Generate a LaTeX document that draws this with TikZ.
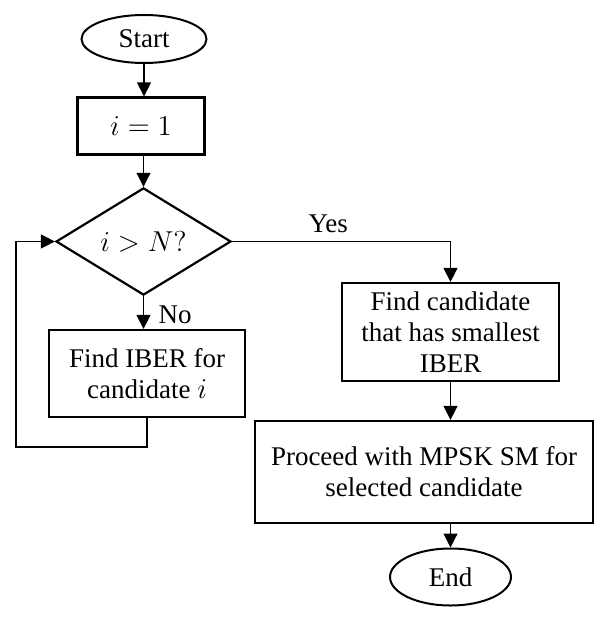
\documentclass[tikz,border=0pt]{standalone}
\usepackage{fontspec}
\setmainfont{Liberation Serif}
\usetikzlibrary{shapes.geometric,arrows.meta}

\tikzset{
  term/.style={draw, ellipse, line width=1pt, inner sep=0pt},
  proc/.style={draw, rectangle, line width=1.1pt, inner sep=2pt, align=center},
  decision/.style={draw, diamond, line width=1.1pt, inner sep=0pt,
    minimum width=87.5pt, minimum height=53.5pt},
  conn/.style={line width=0.55pt}
}

\begin{document}
\begin{tikzpicture}[x=0.5pt,y=-0.5pt,
    >={Triangle[length=7pt,width=7pt]},
    font=\fontsize{13.5}{15.5}\selectfont]
  \useasboundingbox (0,0) rectangle (601,635);

  \node[term, minimum width=62.5pt, minimum height=24pt] (start) at (144,39) {Start};
  \node[proc, minimum width=63.5pt, minimum height=28.5pt] (init) at (141,126) {$i=1$};
  \node[decision] (test) at (143.5,241.5) {$i>N?$};
  \node[proc, minimum width=98pt, minimum height=43.5pt] (iber) at (147,373.5)
    {Find IBER for\\candidate $i$};
  \node[proc, minimum width=108.5pt, minimum height=49pt] (best) at (450.5,332)
    {Find candidate\\that has smallest\\IBER};
  \node[proc, minimum width=169pt, minimum height=51pt] (proceed) at (424,472)
    {Proceed with MPSK SM for\\selected candidate};
  \node[term, minimum width=60.5pt, minimum height=28.5pt] (end) at (450.5,577) {End};

  \coordinate (loop) at (16,447);

  \draw[conn,->] (start) -- (start |- init.north);
  \draw[conn,->] (init.south -| test.north) -- (test.north);
  \draw[conn,->] (test.south) -- node[right, xshift=4pt, yshift=-1pt]{No} (test.south |- iber.north);
  \draw[conn,->] (iber.south) |- (loop) |- (test.west);
  \draw[conn,->] (test.east) -| node[pos=0.22, above, yshift=1pt]{Yes} (best.north);
  \draw[conn,->] (best.south) -- (best.south |- proceed.north);
  \draw[conn,->] (proceed.south -| end.north) -- (end.north);
\end{tikzpicture}
\end{document}
